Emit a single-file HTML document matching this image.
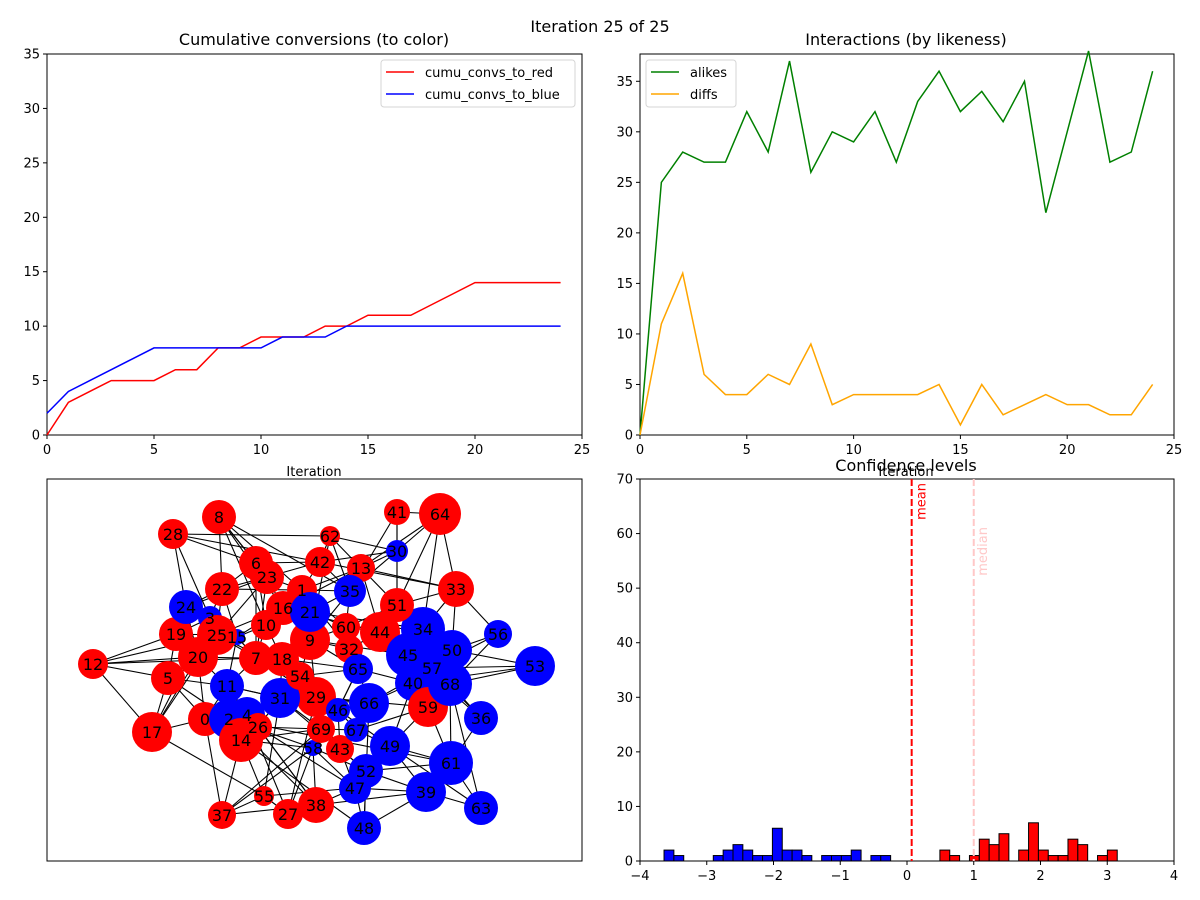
<!DOCTYPE html>
<html><head><meta charset="utf-8">
<style>
body{margin:0;background:#fff;}
svg{display:block;font-family:"DejaVu Sans","Liberation Sans",sans-serif;}
</style></head>
<body>
<svg id="fig" width="1200" height="900" viewBox="0 0 1200 900" xmlns="http://www.w3.org/2000/svg">
<rect width="1200" height="900" fill="#fff"/>
<text x="600" y="32" font-size="16" text-anchor="middle">Iteration 25 of 25</text>
</svg>
<script>
// ---------- data ----------
const iterations = [0,1,2,3,4,5,6,7,8,9,10,11,12,13,14,15,16,17,18,19,20,21,22,23,24];
const convsRed  = [0,3,4,5,5,5,6,6,8,8,9,9,9,10,10,11,11,11,12,13,14,14,14,14,14];
const convsBlue = [2,4,5,6,7,8,8,8,8,8,8,9,9,9,10,10,10,10,10,10,10,10,10,10,10];
const alikes = [0,25,28,27,27,32,28,37,26,30,29,32,27,33,36,32,34,31,35,22,30,38,27,28,36];
const diffs  = [0,11,16,6,4,4,6,5,9,3,4,4,4,4,5,1,5,2,3,4,3,3,2,2,5];
const xTicks25 = [0,5,10,15,20,25];
const yTicks35 = [0,5,10,15,20,25,30,35];
const histStart = -3.64, histBinWidth = 0.1476;
const blueBins = [0,1,5,6,7,8,9,10,11,12,13,14,16,17,18,19,21,22];
const blueCounts = [2,1,1,2,3,2,1,1,6,2,2,1,1,1,1,2,1,1];
const redBins = [28,29,31,32,33,34,36,37,38,39,40,41,42,44,45];
const redCounts = [2,1,1,4,3,5,2,7,2,1,1,4,3,1,2];
const meanValue = 0.07, medianValue = 1.0;
const histXTicks = [-4,-3,-2,-1,0,1,2,3,4];
const histYTicks = [0,10,20,30,40,50,60,70];
const nodeX = [205,302,229,210,247,168,256,256,219,310,266,227,93,361,241,237,283,152,282,176,198,310,222,267,186,217,258,288,173,316,397,280,349,456,423,350,481,222,316,426,413,397,320,340,380,408,338,355,364,390,452,397,366,535,300,264,498,432,313,428,346,451,330,481,440,358,369,356,450,321];
const nodeY = [719,590,719,618,715,678,563,658,517,640,625,686,664,568,740,637,608,732,659,634,657,612,589,577,607,635,727,814,534,697,551,698,649,589,629,591,718,815,805,792,683,512,562,749,632,655,710,788,828,746,650,605,771,666,676,796,634,668,748,707,627,763,536,808,514,669,703,730,684,729];
const nodeR = [17,15,20,12,18,17,17,17,17,20,15,17,15,14,22,8,17,20,17,17,20,20,17,17,17,20,14,15,15,20,11,20,14,18,22,16,17,14,18,20,18,13,15,14,20,22,12,16,17,20,20,17,17,20,14,10,14,20,8,20,14,22,10,17,21,15,20,12,22,14];
const nodeIsBlue = [0,0,1,1,1,0,0,0,0,0,0,1,0,0,0,1,0,0,0,0,0,1,0,0,1,0,0,0,0,0,1,1,0,0,1,1,1,0,0,1,1,0,0,0,0,1,1,1,1,1,1,0,1,1,0,0,1,1,1,0,0,1,0,1,0,1,1,1,1,0];
const edges = "12-17 12-19 12-5 12-20 12-25 12-7 17-0 17-5 17-20 17-55 17-25 17-3 28-6 28-24 28-3 28-42 8-22 8-23 8-6 8-1 8-10 8-16 41-64 41-30 41-35 41-51 64-30 64-33 64-51 64-34 64-13 33-56 33-51 33-34 33-13 33-42 33-50 56-50 56-68 56-57 53-68 53-50 53-57 53-40 36-68 36-61 36-57 36-45 63-61 63-39 63-68 63-49 48-39 48-47 48-66 48-52 37-55 37-14 37-58 37-38 37-69 27-55 27-58 27-38 27-29 27-4 38-47 38-39 38-58 38-26 38-2 55-47 55-14 55-31 47-39 52-61 49-61 49-59 49-39 49-40 52-39 52-31 61-68 61-59 61-2 59-40 59-45 59-29 59-67 40-45 40-65 40-68 45-34 45-57 45-50 45-44 45-9 34-50 34-57 34-60 34-21 57-68 57-66 50-68 50-44 66-65 66-46 66-67 66-29 66-31 66-40 65-32 65-9 65-46 65-18 32-60 32-9 32-44 32-1 60-44 60-21 60-51 60-35 44-51 44-13 44-16 51-13 51-30 30-13 30-35 30-62 30-42 35-42 35-21 35-1 35-13 42-62 42-6 42-23 42-1 62-13 62-9 13-1 13-16 1-16 1-21 1-23 1-22 1-10 21-16 21-9 21-18 21-10 16-10 16-23 16-15 16-25 6-23 6-22 6-10 6-7 23-22 23-24 23-25 22-24 22-3 22-15 22-25 24-3 24-19 24-20 3-19 3-25 3-15 19-25 19-20 19-5 25-15 25-20 25-7 20-5 20-11 20-0 5-0 5-2 5-11 0-2 0-11 0-14 2-4 2-11 2-14 2-26 4-26 4-14 4-31 4-11 14-26 14-69 14-58 26-69 26-31 11-7 11-31 7-18 7-10 7-9 7-15 18-54 18-9 18-10 9-54 9-29 9-60 54-29 54-31 54-46 54-65 29-46 29-69 29-31 69-67 69-43 69-58 43-67 43-46 43-52 43-47 67-46 67-49 58-47 58-52 46-65 46-49 31-69 31-18 31-11 10-15 15-11 15-7 24-15 68-59 68-40 39-61 47-52 49-52 40-57 62-35 23-7 8-35 28-62 14-48 26-47 0-37 11-38 2-58 9-35 1-60 18-43 7-29 25-54 20-18";

// ---------- helpers ----------
const NS = "http://www.w3.org/2000/svg";
const svg = document.getElementById('fig');
function mk(tag, attrs, parent, text){
  const e = document.createElementNS(NS, tag);
  for (const k in attrs) e.setAttribute(k, attrs[k]);
  if (text !== undefined) e.textContent = text;
  (parent || svg).appendChild(e);
  return e;
}
function makeAxes(name, x0, y0, w, h, xmin, xmax, ymin, ymax){
  const g = mk('g', {});
  
  
  return {g, x0, y0, w, h,
    sx: v => x0 + (v - xmin) / (xmax - xmin) * w,
    sy: v => y0 + h - (v - ymin) / (ymax - ymin) * h};
}
function frame(ax){
  const r = mk('rect', {x:ax.x0, y:ax.y0, width:ax.w, height:ax.h, fill:'none', stroke:'#000', 'stroke-width':1}, ax.g);
  
  
}
function xticks(ax, ticks, fmt){
  ticks.forEach(t => {
    const x = ax.sx(t);
    mk('line', {x1:x, x2:x, y1:ax.y0+ax.h, y2:ax.y0+ax.h+4, stroke:'#000'}, ax.g);
    const lb = mk('text', {x:x, y:ax.y0+ax.h+19, 'font-size':13, 'text-anchor':'middle'}, ax.g, fmt ? fmt(t) : String(t));
    
    
  });
}
function yticks(ax, ticks){
  ticks.forEach(t => {
    const y = ax.sy(t);
    mk('line', {x1:ax.x0-4, x2:ax.x0, y1:y, y2:y, stroke:'#000'}, ax.g);
    const lb = mk('text', {x:ax.x0-7, y:y+4.5, 'font-size':13, 'text-anchor':'end'}, ax.g, String(t));
    
    
  });
}
function line(ax, xs, ys, color, name){
  const d = xs.map((x,i) => (i ? 'L' : 'M') + ax.sx(x).toFixed(2) + ',' + ax.sy(ys[i]).toFixed(2)).join('');
  const p = mk('path', {d, fill:'none', stroke:color, 'stroke-width':1.5}, ax.g);
  
  
}
function title(x, y, txt, name){
  const t = mk('text', {x, y, 'font-size':16, 'text-anchor':'middle'}, svg, txt);
  
  
}
function legend(ax, x, y, w, items, name){
  const g = mk('g', {}, ax.g);
  
  
  mk('rect', {x, y, width:w, height:47, rx:3, fill:'#fff', 'fill-opacity':0.8, stroke:'#d5d5d5'}, g);
  items.forEach((it, i) => {
    const yy = y + 12 + i * 22;
    mk('line', {x1:x+5, x2:x+33, y1:yy, y2:yy, stroke:it[1], 'stroke-width':1.5}, g);
    const t = mk('text', {x:x+44, y:yy+5, 'font-size':13}, g, it[0]);
    
    
  });
}

// ---------- top-left ----------
const a1 = makeAxes('conversions-chart', 47, 54, 535, 381, 0, 25, 0, 35);
frame(a1); xticks(a1, xTicks25); yticks(a1, yTicks35);
line(a1, iterations, convsRed, '#ff0000', 'line-cumu-convs-to-red');
line(a1, iterations, convsBlue, '#0000ff', 'line-cumu-convs-to-blue');
legend(a1, 381, 60, 194, [['cumu_convs_to_red','#ff0000'],['cumu_convs_to_blue','#0000ff']], 'conversions-legend');
title(314, 45, 'Cumulative conversions (to color)', 'conversions-title');
{const t = mk('text', {x:314, y:476, 'font-size':13, 'text-anchor':'middle'}, svg, 'Iteration');

}

// ---------- top-right ----------
const a2 = makeAxes('interactions-chart', 640, 54, 534, 381, 0, 25, 0, 37.7);
frame(a2); xticks(a2, xTicks25); yticks(a2, yTicks35);
line(a2, iterations, alikes, '#008000', 'line-alikes');
line(a2, iterations, diffs, '#ffa500', 'line-diffs');
legend(a2, 646, 60, 90, [['alikes','#008000'],['diffs','#ffa500']], 'interactions-legend');
title(906, 45, 'Interactions (by likeness)', 'interactions-title');
{const t = mk('text', {x:906, y:476, 'font-size':13, 'text-anchor':'middle'}, svg, 'Iteration');

}

// ---------- network ----------
const netG = mk('g', {});


mk('rect', {x:47, y:479, width:535, height:382, fill:'#fff', stroke:'#000'}, netG);
edges.split(' ').forEach(s => {
  const [a, b] = s.split('-').map(Number);
  const l = mk('line', {x1:nodeX[a], y1:nodeY[a], x2:nodeX[b], y2:nodeY[b], stroke:'#000', 'stroke-width':1.1}, netG);
  
  
});
nodeX.forEach((x, i) => {
  const c = mk('circle', {cx:x, cy:nodeY[i], r:nodeR[i], fill:nodeIsBlue[i] ? '#0000ff' : '#ff0000'}, netG);
  
  
});
nodeX.forEach((x, i) => {
  const t = mk('text', {x:x, y:nodeY[i]+6, 'font-size':16, 'text-anchor':'middle'}, netG, String(i));
  
  
});

// ---------- histogram ----------
const a4 = makeAxes('confidence-histogram', 640, 479, 534, 382, -4, 4, 0, 70);
frame(a4);
function bars(bins, counts, color){
  bins.forEach((b, i) => {
    const l = histStart + b * histBinWidth;
    const x = a4.sx(l), w = a4.sx(l + histBinWidth) - x;
    const y = a4.sy(counts[i]);
    const r = mk('rect', {x, y, width:w, height:a4.sy(0)-y, fill:color, stroke:'#000', 'stroke-width':1}, a4.g);
    
    
  });
}
mk('line', {x1:a4.sx(histStart), x2:a4.sx(histStart+50*histBinWidth), y1:a4.sy(0), y2:a4.sy(0), stroke:'#000', 'stroke-width':1}, a4.g);
bars(blueBins, blueCounts, '#0000ff');
bars(redBins, redCounts, '#ff0000');
{const mx = a4.sx(meanValue);
const ml = mk('line', {x1:mx, x2:mx, y1:a4.y0, y2:a4.y0+a4.h, stroke:'#ff0000', 'stroke-width':2, 'stroke-dasharray':'7,3'}, a4.g);


const mt = mk('text', {x:mx+14, y:a4.y0+4, 'font-size':13, fill:'#ff0000', 'text-anchor':'end', transform:`rotate(-90 ${mx+14} ${a4.y0+4})`}, a4.g, 'mean');


const dx = a4.sx(medianValue);
const dl = mk('line', {x1:dx, x2:dx, y1:a4.y0, y2:a4.y0+a4.h, stroke:'#ffc8c8', 'stroke-width':2, 'stroke-dasharray':'7,3'}, a4.g);


const dt = mk('text', {x:dx+13, y:a4.y0+48, 'font-size':13, fill:'#ffc8c8', 'text-anchor':'end', transform:`rotate(-90 ${dx+13} ${a4.y0+48})`}, a4.g, 'median');

}
xticks(a4, histXTicks, t => t < 0 ? '\u2212' + (-t) : String(t));
yticks(a4, histYTicks);
title(906, 471, 'Confidence levels', 'confidence-title');
</script>
</body></html>
